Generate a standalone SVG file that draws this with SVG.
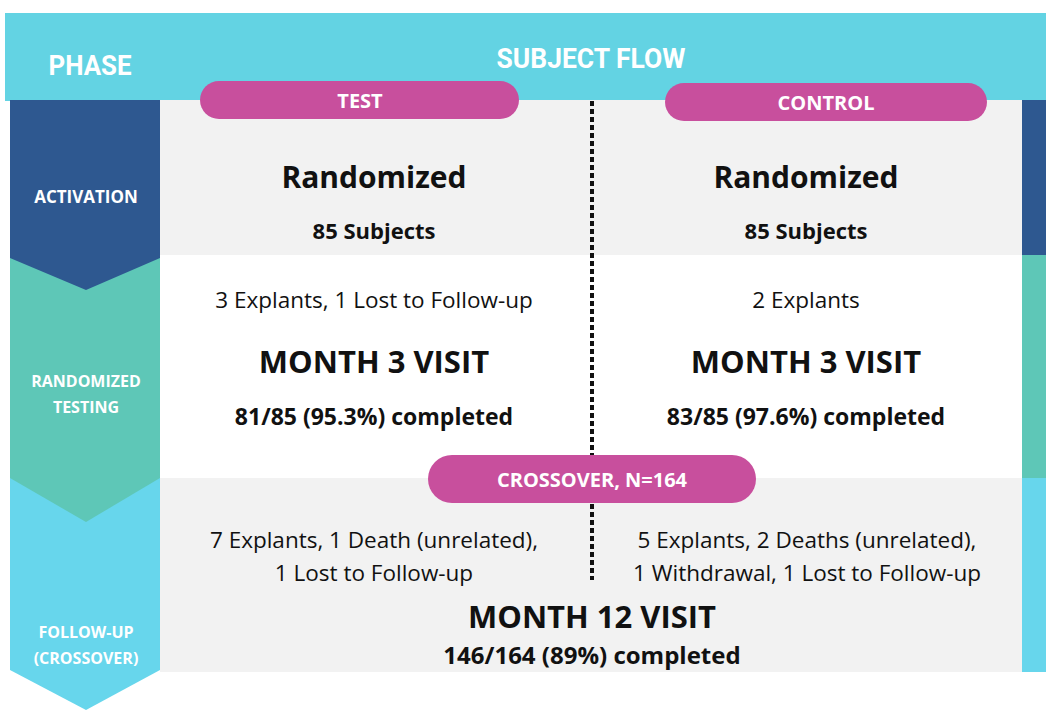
<svg xmlns="http://www.w3.org/2000/svg" width="1046" height="711" viewBox="0 0 1046 711">
<style>
.hdr{font-family:"Liberation Sans Narrow","Roboto",sans-serif;font-weight:bold;fill:#ffffff;text-anchor:middle;font-size:27px}
.pill{fill:#c84f9d}
.pt{font-family:"Open Sans","Noto Sans",sans-serif;font-weight:bold;fill:#ffffff;text-anchor:middle;font-size:20px}
.lbl{font-family:"Open Sans","Noto Sans",sans-serif;font-weight:bold;fill:#ffffff;text-anchor:middle}
.big{font-family:"Open Sans","Noto Sans",sans-serif;font-weight:bold;fill:#111111;text-anchor:middle;font-size:31px}
.rz{font-size:30px}
.med{font-family:"Open Sans","Noto Sans",sans-serif;font-weight:bold;fill:#111111;text-anchor:middle;font-size:23px}
.sub{font-size:22px}
.fin{font-size:24px}
.reg{font-family:"Open Sans","Noto Sans",sans-serif;fill:#111111;text-anchor:middle;font-size:22.5px}
.dots{stroke:#111111;stroke-width:4;stroke-dasharray:5 3;fill:none}
</style>
<rect x="0" y="0" width="1046" height="711" fill="#ffffff"/>
<g id="header">
<rect x="5" y="13" width="1041" height="88" fill="#63d3e3"/>
<text class="hdr" x="90" y="75" textLength="83" lengthAdjust="spacingAndGlyphs">PHASE</text>
<text class="hdr" x="591" y="68" textLength="189" lengthAdjust="spacingAndGlyphs">SUBJECT FLOW</text>
</g>
<g id="rows">
<rect x="160" y="100" width="862" height="155" fill="#f2f2f2"/>
<rect x="160" y="255" width="862" height="223" fill="#ffffff"/>
<rect x="160" y="478" width="862" height="194" fill="#f2f2f2"/>
<rect x="1022" y="100" width="24" height="155" fill="#2e5890"/>
<rect x="1022" y="255" width="24" height="223" fill="#5ec7b7"/>
<rect x="1022" y="478" width="24" height="194" fill="#67d6ec"/>
</g>
<g id="phase-followup">
<polygon points="10,470 160,470 160,670 86,710 10,670" fill="#67d6ec"/>
<text class="lbl" x="86" y="638" font-size="16">FOLLOW-UP</text>
<text class="lbl" x="86" y="664" font-size="16">(CROSSOVER)</text>
</g>
<g id="phase-randomized">
<polygon points="10,250 160,250 160,478 86,522 10,478" fill="#5ec7b7"/>
<text class="lbl" x="86" y="387" font-size="16">RANDOMIZED</text>
<text class="lbl" x="86" y="413" font-size="16">TESTING</text>
</g>
<g id="phase-activation">
<polygon points="10,100 160,100 160,258 86,290 10,258" fill="#2e5890"/>
<text class="lbl" x="86" y="203" font-size="17">ACTIVATION</text>
</g>
<g id="connectors">
<line class="dots" x1="592" y1="101" x2="592" y2="455"/>
<line class="dots" x1="592" y1="504" x2="592" y2="580"/>
</g>
<g id="test-pill">
<rect class="pill" x="200" y="81" width="319" height="38" rx="19"/>
<text class="pt" x="360" y="108">TEST</text>
</g>
<g id="control-pill">
<rect class="pill" x="665" y="83" width="322" height="38" rx="19"/>
<text class="pt" x="826" y="110">CONTROL</text>
</g>
<g id="test-randomized">
<text class="big rz" x="374" y="188">Randomized</text>
<text class="med sub" x="374" y="239">85 Subjects</text>
</g>
<g id="control-randomized">
<text class="big rz" x="806" y="188">Randomized</text>
<text class="med sub" x="806" y="239">85 Subjects</text>
</g>
<g id="test-month3">
<text class="reg" x="374" y="308">3 Explants, 1 Lost to Follow-up</text>
<text class="big" x="374" y="373">MONTH 3 VISIT</text>
<text class="med" x="374" y="425">81/85 (95.3%) completed</text>
</g>
<g id="control-month3">
<text class="reg" x="806" y="308">2 Explants</text>
<text class="big" x="806" y="373">MONTH 3 VISIT</text>
<text class="med" x="806" y="425">83/85 (97.6%) completed</text>
</g>
<g id="crossover-pill">
<rect class="pill" x="428" y="455" width="328" height="48" rx="24"/>
<text class="pt" x="592" y="487">CROSSOVER, N=164</text>
</g>
<g id="test-followup">
<text class="reg" x="374" y="548">7 Explants, 1 Death (unrelated),</text>
<text class="reg" x="374" y="581">1 Lost to Follow-up</text>
</g>
<g id="control-followup">
<text class="reg" x="807" y="548">5 Explants, 2 Deaths (unrelated),</text>
<text class="reg" x="807" y="581">1 Withdrawal, 1 Lost to Follow-up</text>
</g>
<g id="month12">
<text class="big" x="592" y="628">MONTH 12 VISIT</text>
<text class="med fin" x="592" y="664">146/164 (89%) completed</text>
</g>
</svg>
